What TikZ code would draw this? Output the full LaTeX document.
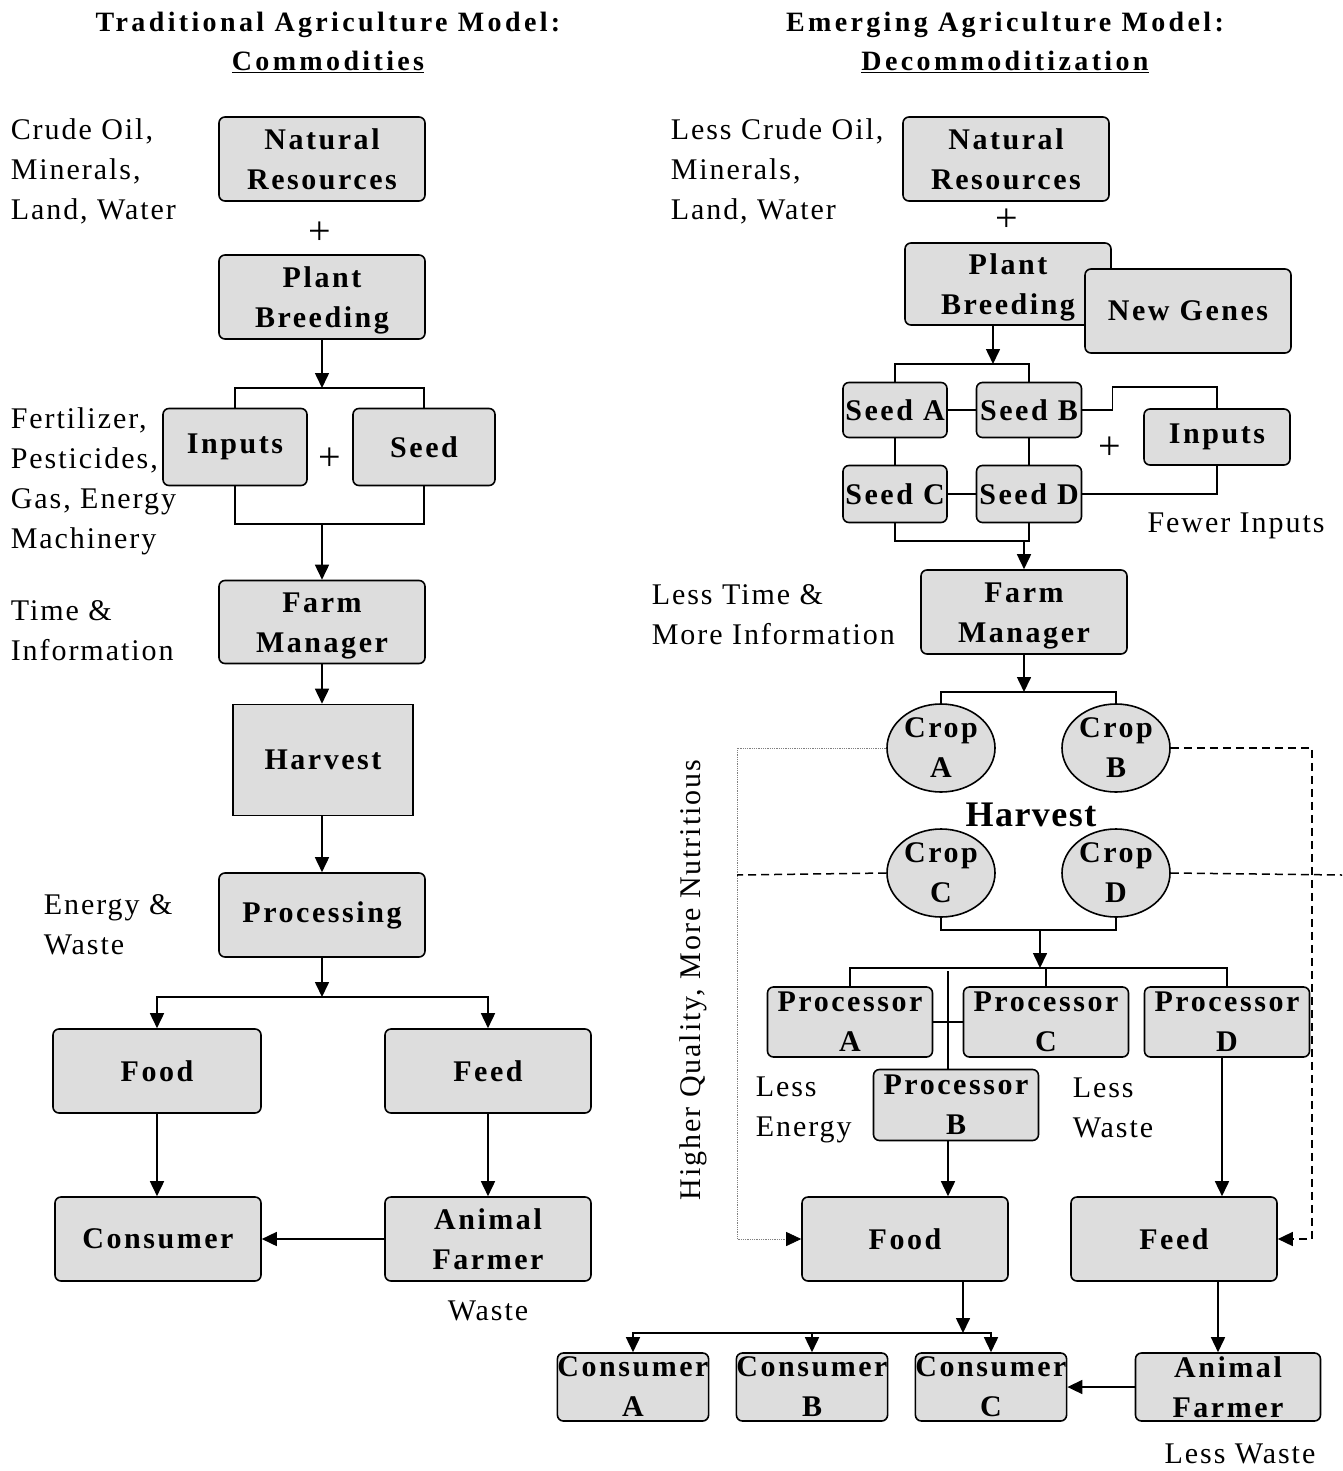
\documentclass[tikz,border=0pt]{standalone}
\usepackage{fontspec}
\setmainfont{Liberation Serif}[LetterSpace=6.5, BoldFeatures={LetterSpace=8.5}]
\newfontfamily\ttlfont{Liberation Serif}[LetterSpace=12, BoldFeatures={LetterSpace=12}]
\newfontfamily\hvfont{Liberation Serif}[LetterSpace=4, BoldFeatures={LetterSpace=4}]
\usetikzlibrary{arrows.meta,shapes.geometric,calc}
\definecolor{boxgray}{HTML}{DDDDDD}
\newcommand{\dnstrut}{\rule{0pt}{28pt}}
\begin{document}
\begin{tikzpicture}[x=1pt,y=-1pt,line width=1.6pt,
  every node/.style={font=\fontsize{30}{40}\selectfont, inner sep=0pt},
  box/.style={draw, fill=boxgray, rounded corners=6pt, align=center,
    font=\fontsize{30}{40}\selectfont\bfseries},
  plainbox/.style={draw, fill=boxgray, align=center,
    font=\fontsize{30}{40}\selectfont\bfseries},
  crop/.style={ellipse, draw, fill=boxgray, align=center, minimum width=108pt,
    minimum height=88pt, inner xsep=0pt, inner ysep=-8pt,
    font=\fontsize{30}{40}\selectfont\bfseries},
  lbl/.style={align=left, anchor=west},
  plus/.style={font=\hvfont\fontsize{40}{40}\selectfont},
  title/.style={align=center, font=\ttlfont\fontsize{28}{39}\selectfont\bfseries},
  arr/.style={-{Triangle[length=15pt,width=14pt]}},
  dotline/.style={densely dotted, gray, line width=0.8pt},
  dashline/.style={line width=1.5pt, dash pattern=on 8pt off 5pt}]
\useasboundingbox (0,0) rectangle (1342,1471);

% ---------------- LEFT ----------------
\node[title] (t1) at (328,42) {Traditional Agriculture Model:\\\underline{Commodities}};
\node[lbl] (l1) at (10,171) {Crude Oil,\\Minerals,\\Land, Water};
\node[box, minimum width=206pt, minimum height=84pt] (nr1) at (322,159) {Natural\\Resources};
\node[plus] (p1) at (320,233) {+};
\node[box, minimum width=206pt, minimum height=84pt] (pl1) at (322,297) {\dnstrut Plant\\Breeding};
\node[lbl] (l2) at (10,481) {Fertilizer,\\Pesticides,\\Gas, Energy\\Machinery};
\node[box, minimum width=144pt, minimum height=77pt] (inp1) at (235,447) {Inputs};
\node[plus] (p2) at (330,459) {+};
\node[box, minimum width=142pt, minimum height=77pt] (seed1) at (424,447) {Seed};
\node[lbl] (l3) at (10,631) {Time \&\\Information};
\node[box, minimum width=206pt, minimum height=83pt] (fm1) at (322,622) {\dnstrut Farm\\Manager};
\node[plainbox, minimum width=180pt, minimum height=111pt] (hv1) at (323,760) {Harvest};
\node[lbl] (l4) at (43,925) {Energy \&\\Waste};
\node[box, minimum width=206pt, minimum height=84pt] (pr1) at (322,915) {Processing};
\node[box, minimum width=208pt, minimum height=84pt] (food1) at (157,1071) {Food};
\node[box, minimum width=206pt, minimum height=84pt] (feed1) at (488,1071) {Feed};
\node[box, minimum width=206pt, minimum height=84pt] (cons1) at (158,1239) {Consumer};
\node[box, minimum width=206pt, minimum height=84pt] (anim1) at (488,1239) {Animal\\Farmer};
\node (w1) at (488,1311) {Waste};

\coordinate (b1) at (322,388);
\coordinate (b2) at (322,524);
\coordinate (b3) at (322,997);
\draw[arr] (pl1.south) -- (b1);
\draw (inp1.north) |- (b1) -| (seed1.north);
\draw (inp1.south) |- (b2) -| (seed1.south);
\draw[arr] (b2) -- (fm1.north);
\draw[arr] (fm1.south) -- (fm1.south |- hv1.north);
\draw[arr] (fm1.south |- hv1.south) -- (pr1.north);
\draw[arr] (pr1.south) -- (b3);
\draw[arr] (b3) -| (food1.north);
\draw[arr] (b3) -| (feed1.north);
\draw[arr] (food1.south) -- (food1.south |- cons1.north);
\draw[arr] (feed1.south) -- (anim1.north);
\draw[arr] (anim1.west) -- (cons1.east);

% ---------------- RIGHT ----------------
\node[title] (t2) at (1005,42) {Emerging Agriculture Model:\\\underline{Decommoditization}};
\node[lbl] (l5) at (670,171) {Less Crude Oil,\\Minerals,\\Land, Water};
\node[box, minimum width=206pt, minimum height=84pt] (nr2) at (1006,159) {Natural\\Resources};
\node[plus] (p3) at (1007,220) {+};
\node[box, minimum width=206pt, minimum height=82pt] (pl2) at (1008,284) {\dnstrut Plant\\Breeding};
\node[box, minimum width=206pt, minimum height=84pt] (ng) at (1188,311) {New Genes};

\node[box, minimum width=104pt, minimum height=55pt] (sa) at (895,410) {Seed A};
\node[box, minimum width=105pt, minimum height=55pt] (sb) at (1029,410) {Seed B};
\node[box, minimum width=104pt, minimum height=57pt] (sc) at (895,494) {Seed C};
\node[box, minimum width=105pt, minimum height=57pt] (sd) at (1029,494) {Seed D};
\node[box, minimum width=146pt, minimum height=56pt] (inp2) at (1217,437) {Inputs};
\node[plus] (p4) at (1110,448) {+};
\node (fi) at (1236,526) {Fewer Inputs};

\coordinate (b4) at (993,364);
\coordinate (b5) at (1024,541);
\draw[arr] (b4 |- pl2.south) -- (b4);
\draw (sa.north) |- (b4) -| (sb.north);
\draw (sa.east) -- (sb.west);
\draw (sc.east) -- (sd.west);
\draw (sa.south) -- (sc.north);
\draw (sb.south) -- (sd.north);
\draw (sc.south) |- (b5) -| (sd.south);
\draw (sb.east) -- ++(30,0) -- ++(0,-23) -| (inp2.north);
\draw (sd.east) -| (inp2.south);

\node[lbl] (l6) at (651,615) {Less Time \&\\More Information};
\node[box, minimum width=206pt, minimum height=84pt] (fm2) at (1024,612) {\dnstrut Farm\\Manager};
\draw[arr] (b5) -- (fm2.north);

\node[crop] (ca) at (941,748) {Crop\\A};
\node[crop] (cb) at (1116,748) {Crop\\B};
\node[crop] (cc) at (941,873) {Crop\\C};
\node[crop] (cd) at (1116,873) {Crop\\D};
\node[font=\hvfont\fontsize{36}{40}\selectfont\bfseries] (hv2) at (1031,815) {Harvest};
\coordinate (b6) at (1024,692);
\draw[arr] (fm2.south) -- (b6);
\draw (ca.north) |- (b6) -| (cb.north);

\node[rotate=90] (hq) at (693,980) {Higher Quality, More Nutritious};

\node[box, minimum width=165pt, minimum height=70pt] (pa) at (850,1022) {Processor\\A};
\node[box, minimum width=165pt, minimum height=70pt] (pc) at (1046,1022) {Processor\\C};
\node[box, minimum width=165pt, minimum height=70pt] (pd) at (1227,1022) {Processor\\D};
\node[box, minimum width=165pt, minimum height=71pt] (pb) at (956,1105) {Processor\\B};
\node[lbl] (l7) at (755,1110) {Less\\Energy};
\node[lbl] (l8) at (1072,1108) {Less\\Waste};

\node[box, minimum width=206pt, minimum height=84pt] (food2) at (905,1239) {Food};
\node[box, minimum width=206pt, minimum height=84pt] (feed2) at (1174,1239) {Feed};

\coordinate (b7) at (1040,930);
\coordinate (b8) at (1040,968);
\draw (cc.south) |- (b7) -| (cd.south);
\draw[arr] (b7) -- (b8);
\draw (pa.north) |- (b8) -| (pd.north);
\draw (pc.north) -- (pc.north |- b8);
\draw (pa.east) -- (pc.west);
\draw ([xshift=-8pt]pb.north) -- ++(0,-98);
\draw[arr] ([xshift=-8pt]pb.south) -- ([xshift=43pt]food2.north);
\draw[arr] ([xshift=-5pt]pd.south) -- ([xshift=48pt]feed2.north);

% dotted / dashed lines
\draw[dotline, -{Triangle[length=15pt,width=14pt,color=black]}] (ca.west) -- (737,748) |- (food2.west);
\draw[dashline, -{Triangle[length=15pt,width=14pt]}] (cb.east) -- (1312,748) |- (feed2.east);
\draw[dashline] (cc.west) -- (737,875);
\draw[dashline] (cd.east) -- (1342,875);

\node[box, minimum width=150pt, minimum height=68pt] (conA) at (633,1387) {Consumer\\A};
\node[box, minimum width=150pt, minimum height=68pt] (conB) at (812,1387) {Consumer\\B};
\node[box, minimum width=150pt, minimum height=68pt] (conC) at (991,1387) {Consumer\\C};
\node[box, minimum width=185pt, minimum height=68pt] (anim2) at (1228,1387) {Animal\\Farmer};
\node (lw) at (1240,1454) {Less Waste};

\coordinate (b9) at (963,1333);
\draw[arr] ([xshift=58pt]food2.south) -- (b9);
\draw[arr] (b9) -| (conA.north);
\draw[arr] (b9) -| (conC.north);
\draw[arr] (conB.north |- b9) -- (conB.north);
\draw[arr] ([xshift=44pt]feed2.south) -- ([xshift=-10pt]anim2.north);
\draw[arr] (anim2.west) -- (conC.east);
\end{tikzpicture}
\end{document}
